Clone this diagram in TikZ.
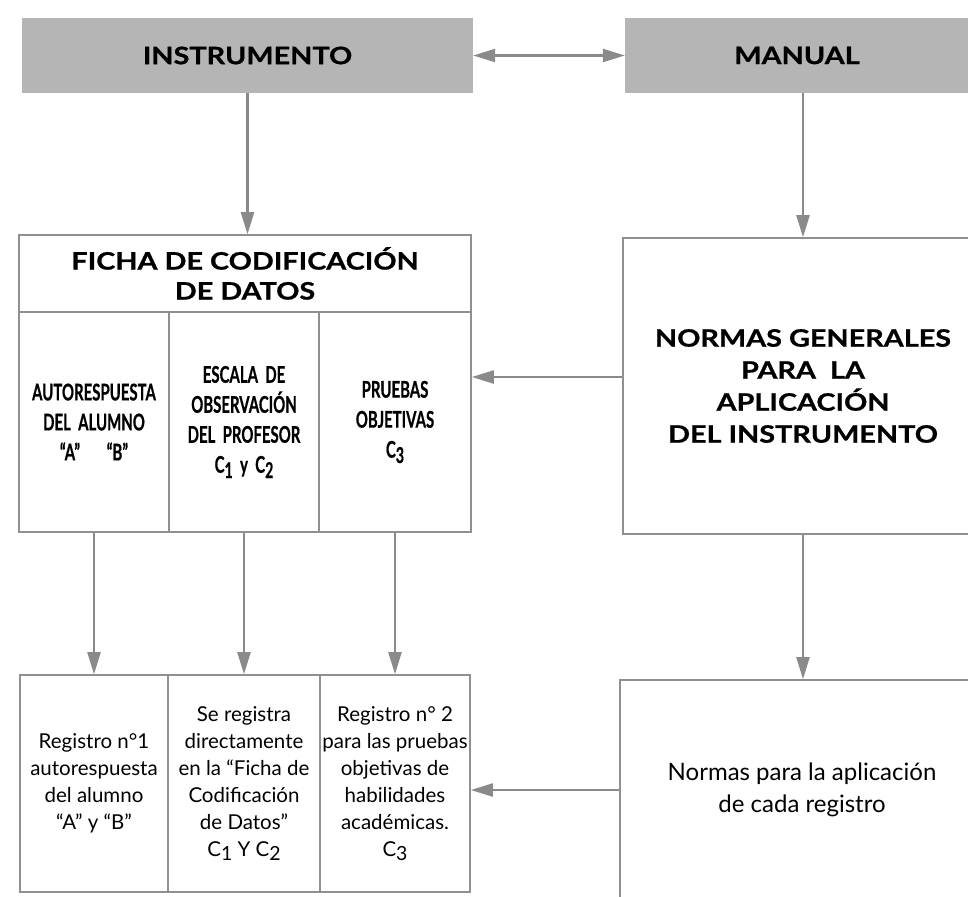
\documentclass[tikz,border=0pt]{standalone}
\usepackage{fontspec}
\setmainfont{Lato}
\newfontfamily\hdfont[FakeStretch=1.2,BoldFeatures={FakeBold=0.8}]{Lato}
\newfontfamily\cdfont[FakeStretch=0.65,BoldFeatures={FakeBold=0.6}]{Lato}
\usetikzlibrary{arrows.meta}
\definecolor{linecol}{HTML}{909090}
\definecolor{arrcol}{HTML}{8A8A8A}
\definecolor{topfill}{HTML}{B5B5B5}
\newcommand\sbs[1]{\raisebox{-0.45ex}{\scalebox{0.95}{#1}}}
\begin{document}
\begin{tikzpicture}[x=1pt,y=-1pt,
  box/.style={draw=linecol, line width=1.6pt, inner sep=0pt, align=center, text=black},
  topbox/.style={fill=topfill, inner sep=0pt, align=center, text=black},
  arr/.style={draw=arrcol, line width=2.2pt, -{Triangle[length=22pt,width=13pt]}},
  darr/.style={draw=arrcol, line width=2.2pt, {Triangle[length=22pt,width=13pt]}-{Triangle[length=22pt,width=13pt]}},
  hd/.style={font=\hdfont\bfseries\fontsize{24}{30}\selectfont},
  hdn/.style={font=\hdfont\bfseries\fontsize{24}{32}\selectfont},
  cd/.style={font=\cdfont\bfseries\fontsize{23}{30}\selectfont},
  rg/.style={font=\fontsize{20.5}{27}\selectfont},
  rgl/.style={font=\fontsize{24}{32}\selectfont}]
\clip (0,0) rectangle (968,896);
\fill[white] (0,0) rectangle (968,896);
% top row
\node[topbox, hd, minimum width=451pt, minimum height=75pt] (instr) at (247.5,55.5) {INSTRUMENTO};
\node[topbox, hd, minimum width=344pt, minimum height=75pt] (manual) at (797,55.5) {MANUAL};
% ficha
\node[box, hd, minimum width=452pt, minimum height=77pt] (fh) at (245,273.5) {FICHA DE CODIFICACIÓN\\DE DATOS};
\node[box, cd, minimum width=150pt, minimum height=220pt] (c1) at (94,422) {AUTORESPUESTA\\DEL\ \ ALUMNO\\“A”\quad\ “B”};
\node[box, cd, minimum width=150pt, minimum height=220pt] (c2) at (244,422) {ESCALA\ \ DE\\OBSERVACIÓN\\DEL\ \ PROFESOR\\C\sbs{1}\ \ y\ \ C\sbs{2}};
\node[box, cd, minimum width=152pt, minimum height=220pt] (c3) at (395,422) {PRUEBAS\\OBJETIVAS\\C\sbs{3}};
% normas generales
\node[box, hdn, minimum width=360pt, minimum height=296pt] (ngen) at (803,386) {NORMAS GENERALES\\PARA\ \ LA\\APLICACIÓN\\DEL INSTRUMENTO};
% bottom row
\node[box, rg, minimum width=148pt, minimum height=217pt] (b1) at (94,783.5) {Registro n°1\\autorespuesta\\del alumno\\“A” y “B”};
\node[box, rg, minimum width=152pt, minimum height=217pt] (b2) at (244,783.5) {Se registra\\directamente\\en la “Ficha de\\Codificación\\de Datos”\\C\sbs{1} Y C\sbs{2}};
\node[box, rg, minimum width=150pt, minimum height=217pt] (b3) at (395,783.5) {Registro n° 2\\para las pruebas\\objetivas de\\habilidades\\académicas.\\C\sbs{3}};
\node[box, rgl, minimum width=364pt, minimum height=220pt] (ncada) at (802,790) {Normas para la aplicación\\de cada registro};
% connectors
\draw[darr] (instr.east) -- (manual.west);
\draw[arr] (instr.south) -- (instr.south |- fh.north);
\draw[arr] ([xshift=6pt]manual.south) -- ([xshift=6pt]manual.south |- ngen.north);
\draw[arr] ([yshift=9pt]ngen.west) -- ([yshift=9pt]ngen.west -| c3.east);
\draw[arr] (c1.south) -- (c1.south |- b1.north);
\draw[arr] (c2.south) -- (c2.south |- b2.north);
\draw[arr] (c3.south) -- (c3.south |- b3.north);
\draw[arr] (ngen.south) -- (ngen.south |- ncada.north);
\draw[arr] (ncada.west) -- (ncada.west -| b3.east);
\end{tikzpicture}
\end{document}
